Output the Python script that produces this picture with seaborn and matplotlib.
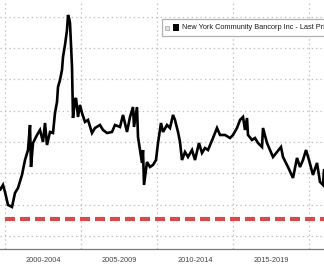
import matplotlib
matplotlib.use("Agg")
import matplotlib.pyplot as plt
import matplotlib.patches as mpatches
import matplotlib.transforms as mtransforms
import seaborn as sns
import pandas as pd

# ---- data (decimal year, price) ----
years = [1999.671, 1999.868, 2000.0, 2000.197, 2000.461, 2000.658, 2000.855, 2001.118,
         2001.316, 2001.513, 2001.645, 2001.711, 2001.842, 2002.105, 2002.303, 2002.5,
         2002.632, 2002.763, 2002.961, 2003.158, 2003.289, 2003.421, 2003.487, 2003.618,
         2003.75, 2003.816, 2003.947, 2004.079, 2004.145, 2004.211, 2004.276, 2004.408,
         2004.474, 2004.605, 2004.671, 2004.803, 2004.934, 2005.066, 2005.263, 2005.461,
         2005.724, 2005.921, 2006.25, 2006.447, 2006.711, 2007.039, 2007.237, 2007.566,
         2007.763, 2008.026, 2008.224, 2008.421, 2008.487, 2008.684, 2008.75, 2008.882,
         2009.013, 2009.079, 2009.145, 2009.342, 2009.539, 2009.737, 2009.934, 2010.066,
         2010.263, 2010.395, 2010.658, 2010.855, 2011.053, 2011.184, 2011.382, 2011.513,
         2011.645, 2011.842, 2012.039, 2012.303, 2012.5, 2012.763, 2012.961, 2013.158,
         2013.355, 2013.684, 2013.947, 2014.145, 2014.474, 2014.803, 2015.0, 2015.263,
         2015.461, 2015.658, 2015.789, 2015.921, 2015.987, 2016.25, 2016.447, 2016.645,
         2016.908, 2016.974, 2017.237, 2017.434, 2017.632, 2017.895, 2018.158, 2018.289,
         2018.618, 2018.947, 2019.211, 2019.408, 2019.605, 2019.803, 2020.0, 2020.263,
         2020.526, 2020.724, 2020.921, 2020.987]
prices = [4.41, 4.89, 4.22, 2.97, 2.78, 4.12, 4.60, 5.85,
          7.28, 8.24, 10.64, 6.61, 8.91, 9.68, 10.16, 9.01,
          10.83, 8.72, 9.97, 9.87, 11.79, 12.84, 14.28, 14.95,
          15.91, 17.16, 18.31, 19.75, 21.18, 20.90, 20.42, 16.20,
          11.31, 13.04, 13.23, 11.41, 12.56, 11.79, 10.93, 11.12,
          9.87, 10.35, 10.64, 10.16, 9.87, 9.97, 10.64, 10.45,
          11.60, 9.97, 11.41, 12.36, 10.45, 12.36, 9.49, 8.24,
          7.00, 8.24, 4.89, 7.09, 6.61, 6.81, 7.28, 8.91,
          10.83, 9.97, 10.64, 10.35, 11.60, 11.12, 9.97, 9.01,
          7.28, 8.05, 7.57, 8.24, 7.28, 8.91, 7.96, 8.43,
          8.24, 9.39, 10.35, 9.68, 9.68, 9.39, 9.68, 10.35,
          11.12, 11.41, 10.16, 11.31, 9.68, 9.20, 9.39, 8.91,
          8.53, 10.35, 8.91, 8.24, 7.57, 8.05, 8.53, 7.57,
          6.61, 5.56, 7.48, 6.61, 7.28, 8.24, 7.28, 5.85,
          7.00, 5.18, 4.89, 6.33]
reference_level = 1.63
period_labels = ["2000-2004", "2005-2009", "2010-2014", "2015-2019"]
period_starts = [2000, 2005, 2010, 2015, 2020]
series_name = "New York Community Bancorp Inc - Last Price"

df = pd.DataFrame({"year": years, "price": prices})

sns.set_theme(style="white")
plt.rcParams["font.family"] = ["Liberation Sans", "DejaVu Sans"]
plt.rcParams["lines.scale_dashes"] = False

W, H = 324, 266
fig = plt.figure(figsize=(W / 100, H / 100), dpi=100)
fig.patch.set_facecolor("white")
ax = fig.add_axes([0, (H - 249) / H, 1, 249 / H])
ax.set_facecolor("white")

# grid
for v in range(0, 22, 3):
    ax.axhline(v, color="#c0c0c0", lw=0.9, ls=(0, (1, 2.2)), zorder=0)
for yv in period_starts:
    ax.axvline(yv, color="#c0c0c0", lw=0.9, ls=(0, (1, 2.2)), zorder=0)

# red dashed level
ax.axhline(reference_level, color="#d94a4a", lw=3.0, ls=(7.2, (7.2, 3.6)),
           solid_capstyle="butt", zorder=1)

sns.lineplot(data=df, x="year", y="price", color="black", lw=1.9, ax=ax, zorder=3)
for ln in ax.get_lines()[-1:]:
    ln.set_solid_joinstyle("miter")

ax.set_xlim(1999.671, 2020.987)
ax.set_ylim(-1.25, 22.62)
ax.set_xlabel("")
ax.set_ylabel("")
ax.set_yticks([])

for s in ["top", "right", "left"]:
    ax.spines[s].set_visible(False)
ax.spines["bottom"].set_color("#7a7a7a")
ax.spines["bottom"].set_linewidth(0.9)

ax.set_xticks(period_starts)
ax.set_xticklabels([])
ax.set_xticks(list(range(2000, 2021)), minor=True)
ax.tick_params(axis="x", which="major", length=13, width=0.9, color="#7a7a7a", direction="out")
ax.tick_params(axis="x", which="minor", length=3, width=0.8, color="#7a7a7a", direction="out")

trans = mtransforms.blended_transform_factory(ax.transData, fig.transFigure)
for lab, st in zip(period_labels, period_starts):
    ax.text(st + 2.5, (H - 260) / H, lab, transform=trans, ha="center", va="center",
            fontsize=5.3, color="#444444", clip_on=False)

# legend box
box = mpatches.Rectangle((162 / W, (H - 36) / H), 0.6, 17 / H, transform=fig.transFigure,
                         fc="white", ec="#b0b0b0", lw=0.9, zorder=5, clip_on=False)
fig.patches.append(box)
icon = mpatches.Rectangle((165 / W, (H - 30) / H), 4 / W, 4 / H, transform=fig.transFigure,
                          fc="#e0e0e0", ec="#a0a0a0", lw=0.5, zorder=6)
fig.patches.append(icon)
sq = mpatches.Rectangle((173 / W, (H - 31) / H), 6 / W, 7 / H, transform=fig.transFigure,
                        fc="black", ec="black", lw=0, zorder=6)
fig.patches.append(sq)
fig.text(182 / W, (H - 27.5) / H, series_name, ha="left", va="center", fontsize=5.3,
         color="#1a1a1a", zorder=7)

fig.savefig("out.png", dpi=100)
